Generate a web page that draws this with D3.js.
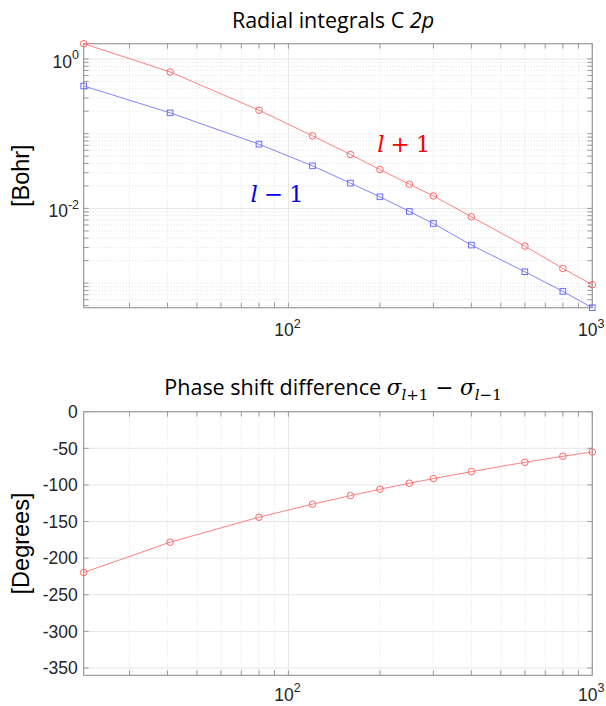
<!DOCTYPE html>
<html><head><meta charset="utf-8">
<script src="https://cdn.jsdelivr.net/npm/d3@7"></script>
<style>body{margin:0;background:#fff}svg{display:block}</style>
</head><body>
<svg id="c" width="606" height="706"></svg>
<script>
// ---- data ----
const energies = [21.2, 40.8, 80, 120, 160, 200, 250, 300, 400, 600, 800, 1000];
const radialLplus1 = [1.6, 0.67, 0.206, 0.0935, 0.0526, 0.0331, 0.0211, 0.0147, 0.00773, 0.00313, 0.00157, 0.000952];
const radialLminus1 = [0.435, 0.19, 0.0724, 0.0371, 0.0218, 0.0143, 0.0091, 0.00628, 0.00323, 0.00142, 0.000775, 0.000469];
const phaseDiff = [-219.6, -178.2, -144.1, -126.3, -114.6, -105.9, -97.7, -91.4, -81.8, -69.1, -60.9, -55.0];
const xDomain = [21.2, 1000];
const xMajorTicks = [100, 1000];
const xTickExponents = ["2", "3"];
const topYDomain = [0.000469, 1.6];
const topYMajorTicks = [1, 0.01];
const topYTickExponents = ["0", "-2"];
const bottomYDomain = [-360, 0];
const bottomYTicks = [0, -50, -100, -150, -200, -250, -300, -350];
const labelPlus = {x: 196, y: 0.0566};
const labelMinus = {x: 75, y: 0.0123};

const svg = d3.select("#c");
const L = 83.7, R = 592.3;
const top1 = {t: 43.7, b: 307.7};
const top2 = {t: 411.7, b: 675.3};
const tickFont = "'Liberation Sans', Arial, sans-serif";
const axisCol = "#9a9a9a", textCol = "#262626";
const redLine = "#ff8080", blueLine = "#8585ff";
const redMark = "#ff6666", blueMark = "#6b6bff";
const tickSize = 17.5, expSize = 12.5;

const x = d3.scaleLog().domain(xDomain).range([L, R]);
const xMinor = [];
for (let d = 10; d <= 1000; d *= 10) for (let k = 1; k <= 9; k++) {
  const v = d * k; if (v >= xDomain[0] && v <= xDomain[1] && !xMajorTicks.includes(v)) xMinor.push(v);
}

function frame(g, t, b) {
  g.selectAll(null).data(xMinor).join("line")
    .attr("x1", d => x(d)).attr("x2", d => x(d)).attr("y1", t).attr("y2", b)
    .attr("stroke", "#d9d9d9").attr("stroke-width", 0.8).attr("stroke-dasharray", "1,2");
  g.selectAll(null).data(xMajorTicks).join("line")
    .attr("x1", d => x(d)).attr("x2", d => x(d)).attr("y1", t).attr("y2", b)
    .attr("stroke", "#e6e6e6").attr("stroke-width", 1);
}

function xAxisTicks(g, t, b, off) {
  const tl = 5;
  g.selectAll(null).data(xMinor.concat(xMajorTicks)).join("path")
    .attr("d", d => `M${x(d)},${b}V${b - tl}M${x(d)},${t}V${t + tl}`)
    .attr("stroke", axisCol).attr("stroke-width", 1).attr("fill", "none");
  const lab = g.selectAll(null).data(xMajorTicks).join("text")
    .attr("x", d => x(d) - 1).attr("y", b + off)
    .attr("text-anchor", "middle").attr("font-family", tickFont)
    .attr("font-size", tickSize).attr("fill", textCol);
  lab.append("tspan").text("10");
  lab.append("tspan").attr("dy", -8.5).attr("font-size", expSize).text((d, i) => xTickExponents[i]);
}

function box(g, t, b) {
  g.append("rect").attr("x", L).attr("y", t).attr("width", R - L).attr("height", b - t)
    .attr("fill", "none").attr("stroke", axisCol).attr("stroke-width", 1.2);
}

// ---------- top chart ----------
const g1 = svg.append("g");
const y1 = d3.scaleLog().domain(topYDomain).range([top1.b, top1.t]);
frame(g1, top1.t, top1.b);
const yMinor1 = [];
for (let d = 0.0001; d <= 1.001; d *= 10) for (let k = 1; k <= 9; k++) {
  const v = +(d * k).toPrecision(6);
  if (v >= topYDomain[0] && v <= topYDomain[1] && !topYMajorTicks.includes(v)) yMinor1.push(v);
}
g1.selectAll(null).data(yMinor1).join("line")
  .attr("x1", L).attr("x2", R).attr("y1", d => y1(d)).attr("y2", d => y1(d))
  .attr("stroke", "#d9d9d9").attr("stroke-width", 0.8).attr("stroke-dasharray", "1,2");
g1.selectAll(null).data(topYMajorTicks).join("line")
  .attr("x1", L).attr("x2", R).attr("y1", d => y1(d)).attr("y2", d => y1(d))
  .attr("stroke", "#e6e6e6").attr("stroke-width", 1);
g1.selectAll(null).data(yMinor1.concat(topYMajorTicks)).join("path")
  .attr("d", d => `M${L},${y1(d)}H${L + 5}M${R},${y1(d)}H${R - 5}`)
  .attr("stroke", axisCol).attr("fill", "none");
xAxisTicks(g1, top1.t, top1.b, 28.7);
box(g1, top1.t, top1.b);
const ylab1 = g1.selectAll(null).data(topYMajorTicks).join("text")
  .attr("x", L - 4.7).attr("y", d => y1(d) + 9)
  .attr("text-anchor", "end").attr("font-family", tickFont)
  .attr("font-size", tickSize).attr("fill", textCol);
ylab1.append("tspan").text("10");
ylab1.append("tspan").attr("dy", -8.5).attr("font-size", expSize).text((d, i) => topYTickExponents[i]);

const line1 = d3.line().x((d, i) => x(energies[i])).y(d => y1(d));
g1.append("path").datum(radialLplus1).attr("d", line1).attr("fill", "none").attr("stroke", redLine).attr("stroke-width", 1);
g1.append("path").datum(radialLminus1).attr("d", line1).attr("fill", "none").attr("stroke", blueLine).attr("stroke-width", 1);
g1.selectAll(null).data(radialLplus1).join("circle")
  .attr("cx", (d, i) => x(energies[i])).attr("cy", d => y1(d)).attr("r", 3.3)
  .attr("fill", "none").attr("stroke", redMark).attr("stroke-width", 1);
g1.selectAll(null).data(radialLminus1).join("rect")
  .attr("x", (d, i) => x(energies[i]) - 2.8).attr("y", d => y1(d) - 2.8)
  .attr("width", 5.6).attr("height", 5.6)
  .attr("fill", "none").attr("stroke", blueMark).attr("stroke-width", 1);

const mathFont = "'DejaVu Serif', 'Liberation Serif', serif";
function mathLabel(g, px, py, sign, color) {
  const t = g.append("text").attr("x", px).attr("y", py).attr("font-family", mathFont)
    .attr("font-size", 23).attr("fill", color);
  t.append("tspan").attr("font-style", "italic").text("l");
  t.append("tspan").attr("dx", 6).text(sign);
  t.append("tspan").attr("dx", 6).text("1");
}
mathLabel(g1, x(labelPlus.x), y1(labelPlus.y), "+", "#ff0000");
mathLabel(g1, x(labelMinus.x), y1(labelMinus.y), "\u2212", "#0000ee");

g1.append("text").attr("transform", `translate(29,${(top1.t + top1.b) / 2}) rotate(-90)`)
  .attr("text-anchor", "middle").attr("font-family", tickFont).attr("font-size", 23.5)
  .attr("fill", "#000").text("[Bohr]");

const titleFont = "'Open Sans', 'Noto Sans', sans-serif";
const t1 = svg.append("text").attr("x", 333).attr("y", 28).attr("text-anchor", "middle")
  .attr("font-family", titleFont).attr("font-size", 21.5).attr("fill", "#000");
t1.append("tspan").text("Radial integrals C ");
t1.append("tspan").attr("font-style", "italic").text("2p");

// ---------- bottom chart ----------
const g2 = svg.append("g");
const y2 = d3.scaleLinear().domain(bottomYDomain).range([top2.b, top2.t]);
frame(g2, top2.t, top2.b);
g2.selectAll(null).data(bottomYTicks).join("line")
  .attr("x1", L).attr("x2", R).attr("y1", d => y2(d)).attr("y2", d => y2(d))
  .attr("stroke", "#e6e6e6").attr("stroke-width", 1);
g2.selectAll(null).data(bottomYTicks).join("path")
  .attr("d", d => `M${L},${y2(d)}H${L + 5}M${R},${y2(d)}H${R - 5}`)
  .attr("stroke", axisCol).attr("fill", "none");
xAxisTicks(g2, top2.t, top2.b, 25.5);
box(g2, top2.t, top2.b);
g2.selectAll(null).data(bottomYTicks).join("text")
  .attr("x", L - 6).attr("y", d => y2(d) + 6.3)
  .attr("text-anchor", "end").attr("font-family", tickFont)
  .attr("font-size", tickSize).attr("fill", textCol).text(d => d);

const line2 = d3.line().x((d, i) => x(energies[i])).y(d => y2(d));
g2.append("path").datum(phaseDiff).attr("d", line2).attr("fill", "none").attr("stroke", redLine).attr("stroke-width", 1);
g2.selectAll(null).data(phaseDiff).join("circle")
  .attr("cx", (d, i) => x(energies[i])).attr("cy", d => y2(d)).attr("r", 3.3)
  .attr("fill", "none").attr("stroke", redMark).attr("stroke-width", 1);

g2.append("text").attr("transform", `translate(29,${(top2.t + top2.b) / 2}) rotate(-90)`)
  .attr("text-anchor", "middle").attr("font-family", tickFont).attr("font-size", 23.5)
  .attr("fill", "#000").text("[Degrees]");

const t2 = svg.append("text").attr("x", 333).attr("y", 395).attr("text-anchor", "middle")
  .attr("font-family", titleFont).attr("font-size", 21.5).attr("fill", "#000");
t2.append("tspan").text("Phase shift difference ");
t2.append("tspan").attr("font-family", mathFont).attr("font-style", "italic").text("\u03c3");
t2.append("tspan").attr("font-family", mathFont).attr("font-size", 15).attr("dy", 5).attr("font-style", "italic").text("l");
t2.append("tspan").attr("font-family", mathFont).attr("font-size", 15).text("+1");
t2.append("tspan").attr("font-family", mathFont).attr("dy", -5).text(" \u2212 ");
t2.append("tspan").attr("font-family", mathFont).attr("font-style", "italic").text("\u03c3");
t2.append("tspan").attr("font-family", mathFont).attr("font-size", 15).attr("dy", 5).attr("font-style", "italic").text("l");
t2.append("tspan").attr("font-family", mathFont).attr("font-size", 15).text("\u22121");
</script>
</body></html>
